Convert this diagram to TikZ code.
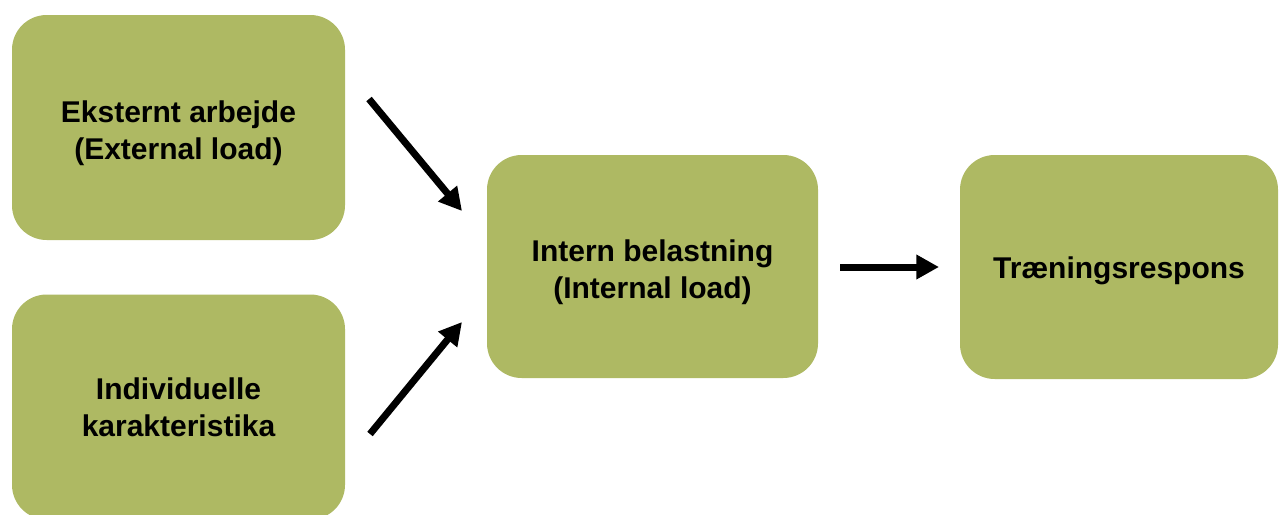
\documentclass[tikz,border=0pt]{standalone}
\usepackage{fontspec}
\setmainfont{Liberation Sans}
\usetikzlibrary{arrows.meta}
\definecolor{olivebox}{RGB}{174,185,99}
\tikzset{every picture/.style={line width=0.75pt}}
\tikzset{
  loadbox/.style={fill=olivebox, draw=none, rounded corners=26pt, inner sep=0pt},
  loadtext/.style={align=center, inner sep=0pt,
    font=\fontsize{22.5pt}{27.75pt}\selectfont\bfseries},
  flowarrow/.style={line width=5.25pt, -{Triangle[length=17pt,width=17.5pt]}}
}
\begin{document}
\begin{tikzpicture}[x=0.75pt,y=0.75pt,yscale=-1,xscale=1]
	\useasboundingbox (0,0) rectangle (1280,514);
	\clip (0,0) rectangle (1280,514);

	%Rounded Rect [id:ext]
	\node [loadbox, minimum width=249.75pt, minimum height=168.75pt] (ext) at (178.5,127.5) {};
	%Rounded Rect [id:ind]
	\node [loadbox, minimum width=249.75pt, minimum height=168.75pt] (ind) at (178.5,407) {};
	%Rounded Rect [id:int]
	\node [loadbox, minimum width=248.25pt, minimum height=167.25pt] (int) at (652.5,266.5) {};
	%Rounded Rect [id:resp]
	\node [loadbox, minimum width=238.5pt, minimum height=168pt] (resp) at (1119,267) {};

	% Text Node
	\node [loadtext] (extlbl) at ([yshift=4pt]ext.center) {Eksternt arbejde\\(External load)};
	% Text Node
	\node [loadtext] (indlbl) at ([yshift=0.3pt]ind.center) {Individuelle\\karakteristika};
	% Text Node
	\node [loadtext] (intlbl) at ([yshift=4pt]int.center) {Intern belastning\\(Internal load)};
	% Text Node
	\node [loadtext] (resplbl) at ([yshift=3pt]resp.center) {Træningsrespons};

	%Arrow ends
	\coordinate (extout) at (369,99);
	\coordinate (intinA) at (462,211);
	\coordinate (indout) at (370,434);
	\coordinate (intinB) at (462,322);
	\coordinate (intout) at (840,267);
	\coordinate (respin) at (939,267);

	%Straight Lines [id:arrows]
	\draw [flowarrow] (extout) -- (intinA);
	\draw [flowarrow] (indout) -- (intinB);
	\draw [flowarrow] (intout) -- (respin);

\end{tikzpicture}
\end{document}
